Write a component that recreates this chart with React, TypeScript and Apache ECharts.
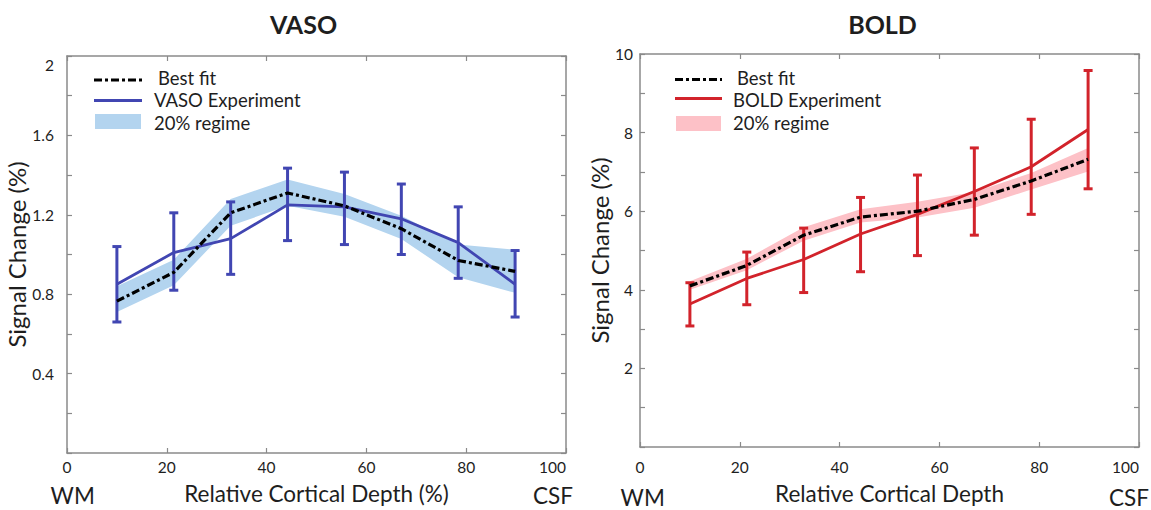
import React, { useEffect, useRef } from "react";
import * as echarts from "echarts";

// ---------- data ----------
const depth = [10, 21.4, 32.8, 44.2, 55.6, 67, 78.4, 89.8];

const vasoExp = [0.85, 1.01, 1.08, 1.25, 1.24, 1.18, 1.06, 0.85];
const vasoErrLow = [0.66, 0.82, 0.9, 1.07, 1.05, 1.0, 0.88, 0.685];
const vasoErrHigh = [1.04, 1.21, 1.265, 1.435, 1.415, 1.355, 1.24, 1.02];
const vasoFit = [0.765, 0.91, 1.21, 1.31, 1.245, 1.13, 0.97, 0.915];
const vasoBandHigh = [0.84, 0.974, 1.28, 1.378, 1.305, 1.195, 1.05, 1.024];
const vasoBandLow = [0.71, 0.845, 1.145, 1.245, 1.19, 1.078, 0.885, 0.807];

const boldExp = [3.64, 4.29, 4.77, 5.42, 5.92, 6.5, 7.13, 8.08];
const boldErrLow = [3.08, 3.62, 3.93, 4.46, 4.87, 5.39, 5.92, 6.57];
const boldErrHigh = [4.18, 4.96, 5.57, 6.35, 6.92, 7.61, 8.34, 9.58];
const boldFit = [4.1, 4.62, 5.39, 5.85, 6.0, 6.3, 6.77, 7.32];
const boldBandHigh = [4.22, 4.79, 5.59, 6.05, 6.24, 6.49, 6.97, 7.61];
const boldBandLow = [4.0, 4.5, 5.25, 5.71, 5.84, 6.09, 6.55, 7.01];

const xTicks = [0, 20, 40, 60, 80, 100];

// ---------- styles ----------
const FONT = "Lato";
const TXT = "#1e1e1e";
const AXIS = "#8a8a8a";
const BLUE = "#4146b2";
const BLUE_BAND = "#b3d4ef";
const RED = "#d2232b";
const RED_BAND = "#fdc1c7";
const DASH = [8, 3, 3, 3];

function bandSeries(xi: number, yi: number, hi: number[], lo: number[], color: string) {
  return {
    type: "custom",
    xAxisIndex: xi,
    yAxisIndex: yi,
    silent: true,
    z: 1,
    data: depth.map((x, i) => [x, hi[i], lo[i]]),
    encode: { x: 0, y: [1, 2] },
    renderItem: (params: any, api: any) => {
      if (params.dataIndex !== 0) return null;
      const top = depth.map((x, i) => api.coord([x, hi[i]]));
      const bot = depth.map((x, i) => api.coord([x, lo[i]])).reverse();
      return {
        type: "polygon",
        shape: { points: top.concat(bot) },
        style: { fill: color },
      };
    },
  };
}

function errSeries(xi: number, yi: number, lo: number[], hi: number[], color: string) {
  return {
    type: "custom",
    xAxisIndex: xi,
    yAxisIndex: yi,
    z: 3,
    data: depth.map((x, i) => [x, lo[i], hi[i]]),
    encode: { x: 0, y: [1, 2] },
    renderItem: (params: any, api: any) => {
      const x = api.value(0);
      const a = api.coord([x, api.value(1)]);
      const b = api.coord([x, api.value(2)]);
      const hw = 4.5;
      const style = { stroke: color, lineWidth: 3 };
      return {
        type: "group",
        children: [
          { type: "line", shape: { x1: a[0], y1: a[1], x2: b[0], y2: b[1] }, style },
          { type: "line", shape: { x1: a[0] - hw, y1: a[1], x2: a[0] + hw, y2: a[1] }, style },
          { type: "line", shape: { x1: b[0] - hw, y1: b[1], x2: b[0] + hw, y2: b[1] }, style },
        ],
      };
    },
  };
}

function lineSeries(name: string, xi: number, yi: number, ys: number[], color: string, dashed: boolean) {
  return {
    name,
    type: "line",
    xAxisIndex: xi,
    yAxisIndex: yi,
    z: dashed ? 4 : 2,
    symbol: "none",
    data: depth.map((x, i) => [x, ys[i]]),
    lineStyle: { color, width: dashed ? 3.2 : 2.8, type: dashed ? DASH : "solid" },
  };
}

const axisLine = { show: true, onZero: false, lineStyle: { color: AXIS, width: 1.5 } };
const axisTick = { show: true, inside: true, length: 5, lineStyle: { color: AXIS, width: 1.2 } };

function xAxes(grid: number, margin: number, nameGap: number, name: string) {
  return [
    {
      type: "value",
      gridIndex: grid,
      position: "bottom",
      min: 0,
      max: 100,
      interval: 20,
      name,
      nameLocation: "middle",
      nameGap,
      nameTextStyle: { fontFamily: FONT, fontSize: 22.5, color: TXT },
      axisLine,
      axisTick,
      splitLine: { show: false },
      axisLabel: {
        margin,
        fontFamily: FONT,
        fontSize: 15.5,
        color: TXT,
        alignMaxLabel: "right",
        formatter: (v: number) => (xTicks.indexOf(Math.round(v)) >= 0 ? String(Math.round(v)) : ""),
      },
    },
    {
      type: "value",
      gridIndex: grid,
      position: "top",
      min: 0,
      max: 100,
      interval: 20,
      axisLine,
      axisTick,
      splitLine: { show: false },
      axisLabel: { show: false },
    },
  ];
}

function yAxes(grid: number, max: number, step: number, labelEvery: number, margin: number, nameGap: number, shiftTop: boolean) {
  return [
    {
      type: "value",
      gridIndex: grid,
      position: "left",
      min: 0,
      max,
      interval: step,
      name: "Signal Change (%)",
      nameLocation: "middle",
      nameGap,
      nameTextStyle: { fontFamily: FONT, fontSize: 24, color: TXT },
      axisLine,
      axisTick,
      splitLine: { show: false },
      axisLabel: {
        margin,
        fontFamily: FONT,
        fontSize: 15.5,
        color: TXT,
        formatter: (v: number) => {
          const k = Math.round(v / step);
          if (k === 0 || k % labelEvery !== 0) return "";
          const s = String(Math.round(v * 10) / 10);
          if (shiftTop && Math.abs(v - max) < 1e-9) return "{t|" + s + "}";
          return s;
        },
        rich: {
          t: { fontFamily: FONT, fontSize: 15.5, color: TXT, padding: [18, 0, 0, 0] },
        },
      },
    },
    {
      type: "value",
      gridIndex: grid,
      position: "right",
      min: 0,
      max,
      interval: step,
      axisLine,
      axisTick,
      splitLine: { show: false },
      axisLabel: { show: false },
    },
  ];
}

function txt(text: string, x: number, y: number, size: number, align: string, bold = false) {
  return {
    type: "text",
    x,
    y,
    silent: true,
    style: {
      text,
      fill: TXT,
      font: `${bold ? "bold " : ""}${size}px ${FONT}`,
      align,
      verticalAlign: "middle",
    },
  };
}

// ys: [dash line y, solid line y, band y]; ts: text centre ys
function legend(x0: number, x1: number, tx: number, ys: number[], ts: number[], lineColor: string, bandColor: string, label: string) {
  return [
    { type: "line", silent: true, shape: { x1: x0, y1: ys[0], x2: x1, y2: ys[0] }, style: { stroke: "#000", lineWidth: 3.2, lineDash: DASH } },
    txt("Best fit", tx + 4, ts[0], 18.5, "left"),
    { type: "line", silent: true, shape: { x1: x0, y1: ys[1], x2: x1, y2: ys[1] }, style: { stroke: lineColor, lineWidth: 3 } },
    txt(label, tx, ts[1], 18.5, "left"),
    { type: "rect", silent: true, shape: { x: x0 + 1, y: ys[2] - 7.5, width: x1 - x0 - 2, height: 15 }, style: { fill: bandColor } },
    txt("20% regime", tx, ts[2], 18.5, "left"),
  ];
}

export default function App() {
  const ref = useRef<HTMLDivElement>(null);
  useEffect(() => {
    if (!ref.current) return;
    const chart = echarts.init(ref.current, null, { renderer: "svg" });
    chart.setOption({
      animation: false,
      backgroundColor: "#ffffff",
      grid: [
        { left: 67, top: 56, width: 499, height: 399 },
        { left: 640, top: 54, width: 499, height: 398 },
      ],
      xAxis: [
        ...xAxes(0, 6, 29, "Relative Cortical Depth (%)"),
        ...xAxes(1, 12, 35, "Relative Cortical Depth"),
      ],
      yAxis: [
        ...yAxes(0, 2, 0.2, 2, 13, 33, true),
        ...yAxes(1, 10, 1, 2, 7, 26, false),
      ],
      series: [
        bandSeries(0, 0, vasoBandHigh, vasoBandLow, BLUE_BAND),
        lineSeries("VASO Experiment", 0, 0, vasoExp, BLUE, false),
        errSeries(0, 0, vasoErrLow, vasoErrHigh, BLUE),
        lineSeries("Best fit", 0, 0, vasoFit, "#000", true),
        bandSeries(2, 2, boldBandHigh, boldBandLow, RED_BAND),
        lineSeries("BOLD Experiment", 2, 2, boldExp, RED, false),
        errSeries(2, 2, boldErrLow, boldErrHigh, RED),
        lineSeries("Best fit", 2, 2, boldFit, "#000", true),
      ],
      graphic: [
        txt("VASO", 303.5, 24, 25, "center", true),
        txt("BOLD", 882.5, 24, 25, "center", true),
        txt("WM", 72.7, 495, 22.5, "center"),
        txt("CSF", 553, 495, 22.5, "center"),
        txt("WM", 642.7, 497.5, 22.5, "center"),
        txt("CSF", 1129, 497.5, 22.5, "center"),
        ...legend(94, 142, 154, [80, 100.5, 121.5], [77.5, 100, 122.5], BLUE, BLUE_BAND, "VASO Experiment"),
        ...legend(675, 722, 733, [79.5, 98.5, 123.5], [77.5, 100, 122.5], RED, RED_BAND, "BOLD Experiment"),
      ],
    });
    return () => chart.dispose();
  }, []);
  return (
    <div
      ref={ref}
      style={{ position: "fixed", left: 0, top: 0, width: 1151, height: 510, background: "#fff" }}
    />
  );
}
